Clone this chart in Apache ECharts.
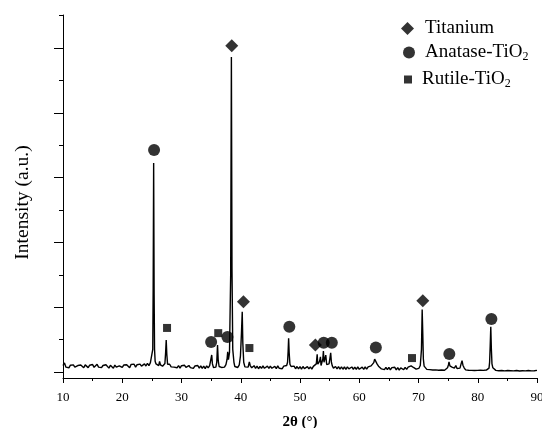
<!DOCTYPE html>
<html>
<head>
<meta charset="utf-8">
<script src="https://cdn.jsdelivr.net/npm/echarts@6/dist/echarts.min.js"></script>
<style>
  html, body { margin: 0; padding: 0; background: #fff; }
  #chart { width: 542px; height: 428px; }
</style>
</head>
<body>
<div id="chart"></div>
<script>
// XRD scan, [2theta, intensity]
var scan = [
  [10.0, 200], [10.25, 280], [10.5, 150], [10.75, 190], [11.0, 130], [11.25, 210], [11.5, 160], [11.75, 220],
  [12.0, 150], [12.25, 120], [12.5, 200], [12.75, 140], [13.0, 215], [13.25, 170], [13.5, 130], [13.75, 220],
  [14.0, 160], [14.25, 135], [14.5, 210], [14.75, 165], [15.0, 230], [15.25, 145], [15.5, 195], [15.75, 240],
  [16.0, 150], [16.25, 210], [16.5, 135], [16.75, 200], [17.0, 150], [17.25, 225], [17.5, 170], [17.75, 120],
  [18.0, 205], [18.25, 165], [18.5, 115], [18.75, 215], [19.0, 150], [19.25, 90], [19.5, 190], [19.75, 210],
  [20.0, 140], [20.25, 215], [20.5, 160], [20.75, 225], [21.0, 170], [21.25, 130], [21.5, 235], [21.75, 180],
  [22.0, 240], [22.25, 150], [22.5, 225], [22.75, 170], [23.0, 245], [23.25, 180], [23.5, 150], [23.75, 250],
  [24.0, 185], [24.25, 270], [24.5, 195], [24.75, 290], [24.9, 240], [25.05, 320], [25.15, 700], [25.22, 2600],
  [25.3, 6450], [25.38, 2400], [25.45, 700], [25.55, 330], [25.7, 250], [25.85, 210], [26.0, 260], [26.15, 200],
  [26.3, 330], [26.45, 220], [26.6, 250], [26.8, 180], [27.0, 230], [27.2, 260], [27.32, 600], [27.42, 990],
  [27.52, 550], [27.65, 240], [27.8, 190], [28.0, 240], [28.25, 160], [28.5, 220], [28.75, 150], [29.0, 210],
  [29.25, 130], [29.5, 200], [29.75, 120], [30.0, 195], [30.25, 135], [30.5, 210], [30.75, 145], [31.0, 115],
  [31.25, 200], [31.5, 135], [31.75, 190], [32.0, 110], [32.25, 185], [32.5, 130], [32.75, 200], [33.0, 120],
  [33.25, 190], [33.5, 110], [33.75, 180], [34.0, 105], [34.25, 190], [34.5, 125], [34.75, 200], [34.95, 260],
  [35.1, 525], [35.22, 250], [35.4, 140], [35.6, 190], [35.8, 150], [35.95, 300], [36.08, 830], [36.2, 350],
  [36.35, 170], [36.55, 210], [36.75, 140], [37.0, 190], [37.25, 150], [37.5, 230], [37.68, 380], [37.8, 620],
  [37.92, 380], [38.1, 600], [38.3, 3000], [38.42, 9720], [38.52, 3200], [38.65, 700], [38.85, 300], [39.0, 170],
  [39.25, 210], [39.5, 140], [39.75, 220], [39.95, 500], [40.12, 1200], [40.25, 1860], [40.35, 900], [40.5, 300],
  [40.7, 160], [41.0, 200], [41.25, 150], [41.45, 310], [41.6, 200], [41.85, 130], [42.0, 130], [42.25, 195],
  [42.5, 115], [42.75, 180], [43.0, 100], [43.25, 175], [43.5, 110], [43.75, 190], [44.0, 115], [44.25, 95],
  [44.5, 180], [44.75, 110], [45.0, 185], [45.25, 115], [45.5, 100], [45.75, 175], [46.0, 105], [46.25, 190],
  [46.5, 115], [46.75, 175], [47.0, 100], [47.25, 180], [47.5, 125], [47.75, 200], [47.9, 300], [48.0, 650],
  [48.08, 1040], [48.17, 600], [48.3, 240], [48.5, 170], [48.75, 110], [49.0, 180], [49.25, 100], [49.5, 170],
  [49.75, 95], [50.0, 165], [50.25, 90], [50.5, 170], [50.75, 105], [51.0, 85], [51.25, 165], [51.5, 95],
  [51.75, 160], [52.0, 90], [52.25, 175], [52.5, 120], [52.75, 250], [52.9, 550], [53.0, 240], [53.15, 180],
  [53.3, 330], [53.45, 470], [53.55, 200], [53.7, 220], [53.85, 400], [53.95, 650], [54.05, 300], [54.2, 250],
  [54.35, 520], [54.5, 230], [54.7, 200], [54.9, 250], [55.05, 420], [55.18, 590], [55.3, 300], [55.45, 190],
  [55.65, 120], [55.85, 180], [56.0, 170], [56.25, 95], [56.5, 165], [56.75, 90], [57.0, 160], [57.25, 85],
  [57.5, 155], [57.75, 80], [58.0, 160], [58.25, 95], [58.5, 75], [58.75, 155], [59.0, 85], [59.25, 150],
  [59.5, 80], [59.75, 155], [60.0, 85], [60.25, 70], [60.5, 150], [60.75, 80], [61.0, 155], [61.25, 90],
  [61.5, 160], [61.75, 130], [62.0, 190], [62.25, 200], [62.45, 290], [62.6, 400], [62.7, 440], [62.82, 380],
  [63.0, 250], [63.25, 180], [63.5, 160], [63.75, 95], [64.0, 155], [64.25, 75], [64.5, 145], [64.75, 70],
  [65.0, 140], [65.25, 65], [65.5, 135], [65.75, 75], [66.0, 145], [66.25, 65], [66.5, 135], [66.75, 60],
  [67.0, 130], [67.25, 140], [67.5, 70], [67.75, 145], [68.0, 80], [68.25, 150], [68.5, 120], [68.75, 190],
  [68.95, 200], [69.15, 140], [69.4, 170], [69.6, 90], [69.85, 140], [70.05, 110], [70.3, 200], [70.5, 700],
  [70.62, 1930], [70.72, 1200], [70.82, 400], [70.95, 180], [71.15, 150], [71.4, 80], [71.65, 125], [71.9, 75],
  [72.15, 120], [72.4, 60], [72.65, 115], [72.9, 65], [73.15, 110], [73.4, 55], [73.65, 115], [73.9, 60],
  [74.15, 110], [74.4, 55], [74.65, 115], [74.9, 130], [75.05, 220], [75.15, 310], [75.3, 190], [75.5, 220],
  [75.65, 150], [75.85, 170], [76.05, 120], [76.3, 200], [76.5, 110], [76.75, 140], [77.0, 120], [77.2, 260],
  [77.35, 350], [77.5, 210], [77.7, 130], [77.95, 65], [78.2, 110], [78.45, 55], [78.7, 100], [78.95, 50],
  [79.2, 95], [79.45, 45], [79.7, 100], [79.95, 50], [80.2, 95], [80.45, 55], [80.7, 105], [80.95, 50],
  [81.2, 100], [81.45, 60], [81.7, 110], [81.9, 120], [82.0, 300], [82.1, 800], [82.2, 1400], [82.3, 700],
  [82.4, 250], [82.55, 130], [82.8, 110], [83.05, 50], [83.3, 90], [83.55, 40], [83.8, 95], [84.05, 45],
  [84.3, 85], [84.55, 35], [84.8, 90], [85.05, 45], [85.3, 95], [85.55, 40], [85.8, 85], [86.05, 35],
  [86.3, 90], [86.55, 45], [86.8, 95], [87.05, 30], [87.3, 85], [87.55, 40], [87.8, 95], [88.05, 35],
  [88.3, 80], [88.55, 45], [88.8, 90], [89.05, 35], [89.3, 75], [89.55, 40], [89.8, 85], [90.0, 50]
];

// phase markers, [2theta, marker height]
var titanium = [[38.48, 10070], [40.45, 2170], [52.6, 830], [70.73, 2200]];
var anatase = [[25.37, 6850], [35.0, 925], [37.75, 1080], [48.2, 1400], [54.0, 905], [55.37, 905], [62.8, 760], [75.2, 555], [82.3, 1635]];
var rutile = [[27.56, 1360], [36.2, 1200], [41.46, 740], [68.9, 430]];

var majorTicks = [0, 2000, 4000, 6000, 8000, 10000];
var minorTicks = [1000, 3000, 5000, 7000, 9000, 11000];

var chart = echarts.init(document.getElementById('chart'));
var serif = '"Liberation Serif", "Times New Roman", serif';
function legendText(padLeft) {
  return {
    fontFamily: serif,
    fontSize: 19,
    color: '#000',
    padding: [0, 0, 0, padLeft],
    rich: {
      sub: { fontFamily: serif, fontSize: 12, color: '#000', verticalAlign: 'bottom', padding: [9, 0, 0, 0] }
    }
  };
}
function legendFmt(name) {
  return name.replace('TiO2', 'TiO{sub|2}');
}

var option = {
  backgroundColor: '#fff',
  animation: false,
  textStyle: { fontFamily: serif },
  grid: { left: 63, right: 5, top: 15, bottom: 50, outerBoundsMode: 'none' },
  legend: [
    { data: ['Titanium'], left: 401, top: 19, padding: 0, itemWidth: 13, itemHeight: 13,
      formatter: legendFmt, textStyle: legendText(6) },
    { data: ['Anatase-TiO2'], left: 403, top: 43, padding: 0, itemWidth: 12, itemHeight: 12,
      formatter: legendFmt, textStyle: legendText(5) },
    { data: ['Rutile-TiO2'], left: 404, top: 70, padding: 0, itemWidth: 8, itemHeight: 8,
      formatter: legendFmt, textStyle: legendText(5) }
  ],
  xAxis: {
    type: 'value',
    min: 10,
    max: 90,
    interval: 10,
    name: '2θ (°)',
    nameLocation: 'middle',
    nameGap: 37,
    nameTextStyle: { fontFamily: serif, fontSize: 15, fontWeight: 'bold', color: '#000' },
    axisLine: { onZero: false, lineStyle: { color: '#000', width: 1 } },
    axisTick: { inside: false, length: 5, lineStyle: { color: '#000' } },
    minorTick: { show: true, splitNumber: 2, length: 3, lineStyle: { color: '#000' } },
    axisLabel: { fontFamily: serif, fontSize: 13, color: '#000', margin: 13 },
    splitLine: { show: false }
  },
  yAxis: [{
    type: 'value',
    min: -185,
    max: 11020,
    name: 'Intensity (a.u.)',
    nameLocation: 'middle',
    nameGap: 30,
    nameTextStyle: { fontFamily: serif, fontSize: 19.5, color: '#000', padding: [0, 12, 0, 0] },
    axisLine: { show: true, lineStyle: { color: '#000', width: 1 } },
    axisTick: { show: true, inside: false, length: 9, customValues: majorTicks, lineStyle: { color: '#000' } },
    axisLabel: { show: false },
    splitLine: { show: false }
  }, {
    type: 'value',
    position: 'left',
    min: -185,
    max: 11020,
    axisLine: { show: false },
    axisTick: { show: true, inside: false, length: 4, customValues: minorTicks, lineStyle: { color: '#000' } },
    axisLabel: { show: false },
    splitLine: { show: false }
  }],
  series: [
    {
      name: 'scan',
      type: 'line',
      data: scan,
      showSymbol: false,
      symbol: 'none',
      lineStyle: { color: '#000', width: 1.4 },
      silent: true,
      z: 2
    },
    {
      name: 'Titanium',
      type: 'scatter',
      data: titanium,
      symbol: 'diamond',
      symbolSize: 13,
      itemStyle: { color: '#000' },
      z: 3
    },
    {
      name: 'Anatase-TiO2',
      type: 'scatter',
      data: anatase,
      symbol: 'circle',
      symbolSize: 12,
      itemStyle: { color: '#000' },
      z: 3
    },
    {
      name: 'Rutile-TiO2',
      type: 'scatter',
      data: rutile,
      symbol: 'rect',
      symbolSize: 8,
      itemStyle: { color: '#000' },
      z: 3
    }
  ]
};

chart.setOption(option);
</script>
</body>
</html>
